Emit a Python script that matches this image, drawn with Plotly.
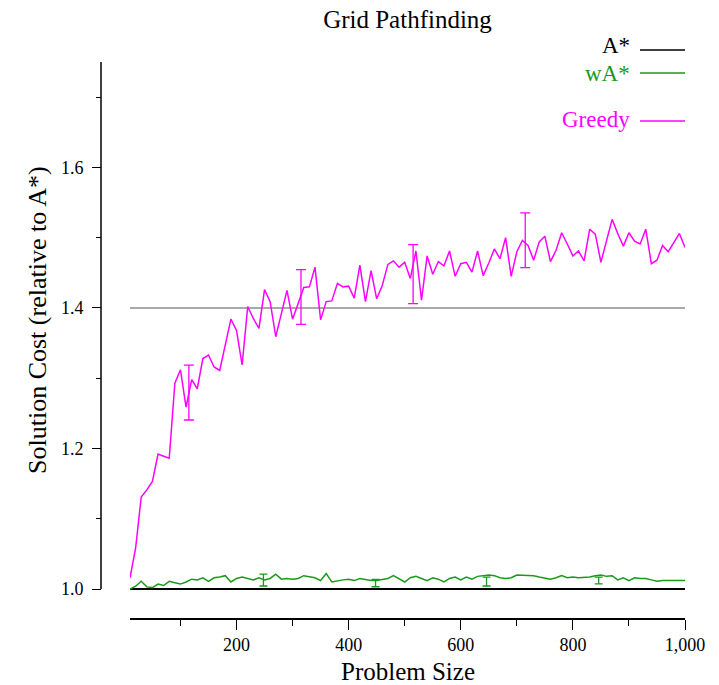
import plotly.graph_objects as go

# ---------------- data ----------------
problem_size = list(range(10, 1001, 10))

astar_cost = [1.0] * 100

wastar_cost = [
    1.000, 1.004, 1.011, 1.003, 1.002, 1.007, 1.005, 1.011, 1.009, 1.007,
    1.010, 1.014, 1.013, 1.016, 1.011, 1.016, 1.017, 1.019, 1.010, 1.015,
    1.017, 1.015, 1.013, 1.016, 1.013, 1.015, 1.021, 1.014, 1.015, 1.014,
    1.015, 1.019, 1.017, 1.016, 1.012, 1.022, 1.010, 1.012, 1.013, 1.014,
    1.012, 1.015, 1.013, 1.012, 1.012, 1.014, 1.015, 1.019, 1.015, 1.010,
    1.016, 1.018, 1.015, 1.012, 1.016, 1.014, 1.010, 1.015, 1.017, 1.013,
    1.017, 1.014, 1.018, 1.019, 1.020, 1.019, 1.016, 1.015, 1.016, 1.020,
    1.020, 1.020, 1.019, 1.017, 1.016, 1.014, 1.016, 1.019, 1.016, 1.017,
    1.016, 1.016, 1.017, 1.019, 1.020, 1.018, 1.019, 1.013, 1.016, 1.012,
    1.016, 1.015, 1.015, 1.013, 1.011, 1.012, 1.012, 1.012, 1.012, 1.012,
]

greedy_cost = [
    1.016, 1.058, 1.131, 1.141, 1.153, 1.192, 1.189, 1.186, 1.293, 1.312,
    1.259, 1.298, 1.285, 1.328, 1.333, 1.316, 1.311, 1.350, 1.384, 1.368,
    1.319, 1.402, 1.385, 1.371, 1.426, 1.409, 1.359, 1.392, 1.425, 1.384,
    1.406, 1.429, 1.430, 1.458, 1.383, 1.409, 1.410, 1.435, 1.430, 1.431,
    1.414, 1.461, 1.409, 1.453, 1.413, 1.432, 1.462, 1.467, 1.458, 1.465,
    1.442, 1.481, 1.411, 1.474, 1.448, 1.466, 1.460, 1.481, 1.445, 1.463,
    1.465, 1.451, 1.481, 1.446, 1.464, 1.484, 1.470, 1.500, 1.445, 1.480,
    1.496, 1.489, 1.468, 1.494, 1.502, 1.466, 1.482, 1.507, 1.491, 1.474,
    1.481, 1.467, 1.512, 1.505, 1.465, 1.494, 1.526, 1.506, 1.488, 1.507,
    1.495, 1.491, 1.512, 1.463, 1.468, 1.489, 1.480, 1.493, 1.506, 1.486,
]

greedy_err_x = [115, 315, 515, 715]
greedy_err_mean = [1.2795, 1.4156, 1.448, 1.4964]
greedy_err_ci = [0.039, 0.039, 0.042, 0.039]

wastar_err_x = [248, 448, 646, 846]
wastar_err_mean = [1.0128, 1.0085, 1.0106, 1.0120]
wastar_err_ci = [0.0085, 0.0053, 0.0063, 0.0048]

reference_level = 1.4

x_tickvals = [200, 400, 600, 800, 1000]
x_ticktext = ["200", "400", "600", "800", "1,000"]
x_minor = [100, 300, 500, 700, 900]
y_tickvals = [1.0, 1.2, 1.4, 1.6]
y_ticktext = ["1.0", "1.2", "1.4", "1.6"]
y_minor = [1.1, 1.3, 1.5, 1.7]

series_names = ["A*", "wA*", "Greedy"]
series_colors = ["#000000", "#1a9a1a", "#ff00ff"]

# ---------------- figure ----------------
FONT = "Liberation Serif"
W, H = 719, 685
ML, MR, MT, MB = 101, 34, 62, 67
PW, PH = W - ML - MR, H - MT - MB


def px_x(px):
    return (px - ML) / PW


def px_y(py):
    return (H - MB - py) / PH


fig = go.Figure()

fig.add_trace(go.Scatter(x=problem_size, y=astar_cost, mode="lines",
                         line=dict(color=series_colors[0], width=1.8),
                         name=series_names[0], showlegend=False))
fig.add_trace(go.Scatter(x=problem_size, y=wastar_cost, mode="lines",
                         line=dict(color=series_colors[1], width=1.5),
                         name=series_names[1], showlegend=False))
fig.add_trace(go.Scatter(x=problem_size, y=greedy_cost, mode="lines",
                         line=dict(color=series_colors[2], width=1.5),
                         name=series_names[2], showlegend=False))

fig.add_trace(go.Scatter(x=wastar_err_x, y=wastar_err_mean, mode="markers",
                         marker=dict(size=1, color="rgba(0,0,0,0)"),
                         error_y=dict(type="data", array=wastar_err_ci, visible=True,
                                      color=series_colors[1], thickness=1.3, width=4),
                         showlegend=False, hoverinfo="skip"))
fig.add_trace(go.Scatter(x=greedy_err_x, y=greedy_err_mean, mode="markers",
                         marker=dict(size=1, color="rgba(0,0,0,0)"),
                         error_y=dict(type="data", array=greedy_err_ci, visible=True,
                                      color=series_colors[2], thickness=1.3, width=5),
                         showlegend=False, hoverinfo="skip"))

# reference line at 1.4
fig.add_shape(type="line", xref="x", yref="y", x0=problem_size[0], x1=problem_size[-1],
              y0=reference_level, y1=reference_level,
              line=dict(color="#8c8c8c", width=1.5), layer="below")

# y axis line (only from 1.0 to top)
fig.add_shape(type="line", xref="paper", yref="y", x0=0, x1=0, y0=1.0, y1=1.75,
              line=dict(color="black", width=1.5))

# legend (text left of line)
legend_text_y = [46, 73, 119]
legend_line_y = [50, 73, 121]
for name, color, ty, ly in zip(series_names, series_colors, legend_text_y, legend_line_y):
    fig.add_annotation(xref="paper", yref="paper", x=px_x(632), y=px_y(ty),
                       text=name, showarrow=False, xanchor="right", yanchor="middle",
                       font=dict(family=FONT, size=23, color=color))
    fig.add_shape(type="line", xref="paper", yref="paper",
                  x0=px_x(640), x1=px_x(685), y0=px_y(ly), y1=px_y(ly),
                  line=dict(color=color, width=1.5))

# axis titles
fig.add_annotation(xref="paper", yref="paper", x=px_x(407.5), y=px_y(671),
                   text="Problem Size", showarrow=False, xanchor="center", yanchor="middle",
                   font=dict(family=FONT, size=25, color="black"))
fig.add_annotation(xref="paper", yref="paper", x=px_x(37), y=px_y(320),
                   text="Solution Cost (relative to A*)", showarrow=False, textangle=-90,
                   xanchor="center", yanchor="middle",
                   font=dict(family=FONT, size=26, color="black"))

y_bottom = 1.0 - (H - MB - 589) / 703.0

fig.update_layout(
    width=W, height=H,
    margin=dict(l=ML, r=MR, t=MT, b=MB, pad=0),
    paper_bgcolor="white", plot_bgcolor="white",
    font=dict(family=FONT, size=18, color="black"),
    title=dict(text="Grid Pathfinding", x=px_x(407.5), xref="paper", xanchor="center",
               y=1 - 19 / H, yanchor="middle",
               font=dict(family=FONT, size=25, color="black")),
    xaxis=dict(domain=[(130 - ML) / PW, 1], range=[10, 1000],
               showline=True, linecolor="black", linewidth=1.5,
               showgrid=False, zeroline=False,
               tickmode="array", tickvals=x_tickvals, ticktext=x_ticktext,
               ticks="outside", ticklen=10, tickwidth=1.2, tickcolor="black",
               ticklabelstandoff=0,
               minor=dict(tickmode="array", tickvals=x_minor, ticks="outside",
                          ticklen=6, tickwidth=1.2, tickcolor="black", showgrid=False),
               tickfont=dict(family=FONT, size=18, color="black")),
    yaxis=dict(anchor="free", position=0, range=[y_bottom, 1.75],
               showline=False, showgrid=False, zeroline=False,
               tickmode="array", tickvals=y_tickvals, ticktext=y_ticktext,
               ticks="outside", ticklen=9, tickwidth=1.2, tickcolor="black",
               ticklabelstandoff=5,
               minor=dict(tickmode="array", tickvals=y_minor, ticks="outside",
                          ticklen=5, tickwidth=1.2, tickcolor="black", showgrid=False),
               tickfont=dict(family=FONT, size=18, color="black")),
    showlegend=False,
)

fig.write_html("out.html", config={"displayModeBar": False},
               post_script="document.body.style.margin='0';")
